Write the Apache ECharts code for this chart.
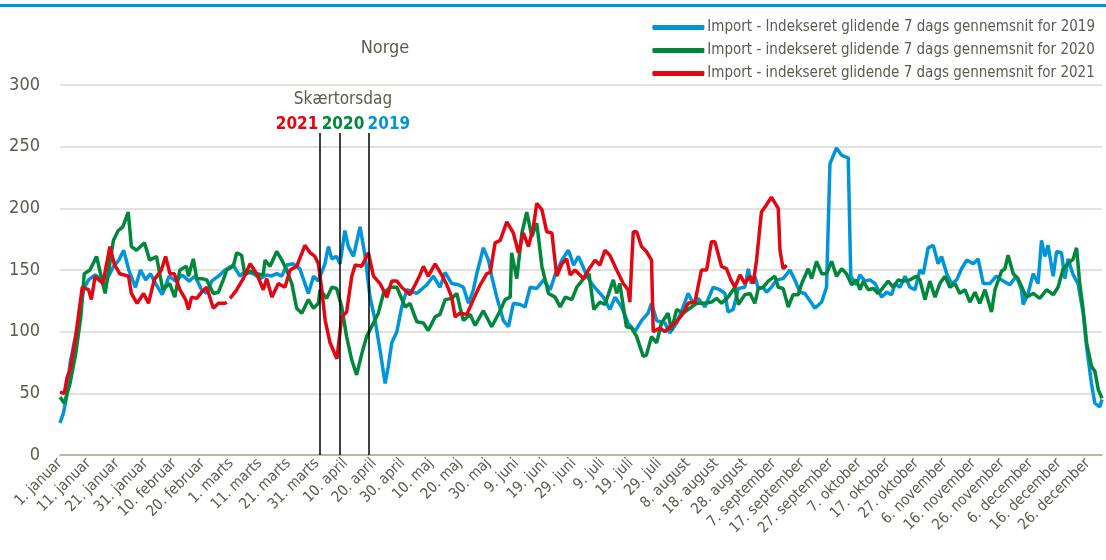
<!DOCTYPE html>
<html lang="da">
<head>
<meta charset="UTF-8" />
<title>Norge</title>
<script src="https://cdn.jsdelivr.net/npm/echarts@6/dist/echarts.min.js"></script>
<style>
  html, body { margin: 0; padding: 0; background: #fff; }
  #main { width: 1106px; height: 560px; }
</style>
</head>
<body>
<div id="main"></div>
<script>
// x-akse: dag i året (0 = 1. januar, skudår), etiket hver 10. dag
var dayLabels = ['1. januar', '11. januar', '21. januar', '31. januar', '10. februar', '20. februar',
  '1. marts', '11. marts', '21. marts', '31. marts', '10. april', '20. april', '30. april',
  '10. maj', '20. maj', '30. maj', '9. juni', '19. juni', '29. juni', '9. juli', '19. juli', '29. juli',
  '8. august', '18. august', '28. august', '7. september', '17. september', '27. september',
  '7. oktober', '17. oktober', '27. oktober', '6. november', '16. november', '26. november',
  '6. december', '16. december', '26. december'];

var seriesNames = [
  'Import - Indekseret glidende 7 dags gennemsnit for 2019',
  'Import - indekseret glidende 7 dags gennemsnit for 2020',
  'Import - indekseret glidende 7 dags gennemsnit for 2021'
];

// skærtorsdag 2021, 2020, 2019 (dag i året)
var skaertorsdag = [91, 98, 108];
var skaertorsdagYears = ['2021', '2020', '2019'];

// [dag, indeks]
var import2019 = [[0,26],[1.2,34],[2.3,47],[3.5,74],[4.7,88],[6.4,107],[8.2,134],[10,142],[12.3,146],[14.7,142],
  [17,145],[18.8,153],[20.6,158],[22.3,166],[24.1,150],[26.4,136],[28.2,150],[30,142],[31.7,147],[33.5,139],
  [35.8,130],[38.2,145],[40.5,141],[42.8,146],[45.2,141],[47.3,145],[49.6,134],[51.4,131],[53.1,141],[55.5,145],
  [57.8,150],[60.7,154],[63,145],[64.8,149],[67.7,147],[70,143],[72.4,146],[74,145],[75.9,147],[77.7,145],
  [79.4,154],[81.7,155],[84,151],[85.8,139],[87,131],[88.8,145],[90.5,141],[92.8,155],[94,169],[95.2,159],
  [96.9,161],[98.1,155],[99.8,182],[101,169],[102.8,161],[105.1,185],[106.9,161],[108.6,128],[110.4,109],[112.1,85],
  [113.9,58],[115,72],[116.2,91],[118,100],[119.7,120],[121.5,134],[125,131],[128.5,138],[130.8,145],[133.1,136],
  [134.9,148],[137.2,139],[139.6,138],[141.3,136],[143.1,123],[144.8,134],[146,147],[148.3,168],[150.1,158],[151.2,145],
  [153,128],[155.3,109],[157.1,104],[158.8,123],[161.2,122],[162.9,120],[164.7,136],[167,135],[169.4,142],[171.7,134],
  [173.4,146],[175.8,158],[178.1,166],[179.9,154],[181.6,161],[183.9,149],[185.6,141],[188,134],[190.3,128],[192.6,118],
  [194.4,128],[196.7,120],[199,107],[201.4,100],[203.7,109],[206,115],[207.2,123],[209,109],[211.9,107],[213.6,99],
  [216,107],[218.3,120],[220,131],[221.8,123],[223.5,127],[225.9,120],[228.8,136],[231.1,134],[232.9,131],[234,116],
  [235.8,118],[237.6,135],[239.9,136],[241.1,151],[242.2,139],[243.4,145],[244.6,135],[246.3,136],[247.5,132],[249.2,136],
  [251,142],[253.3,143],[255.7,150],[257.4,142],[259.2,132],[260.9,131],[263.3,123],[264.4,119],[266.8,124],[268.5,136],
  [269.7,236],[272,249],[273.8,243],[276.1,241],[277,145],[279,138],[280.2,146],[282,141],[283.7,142],[285.5,139],
  [287.8,128],[289.5,132],[291.3,130],[292.5,139],[294.2,136],[296,145],[297.7,136],[299.5,134],[301.2,150],[302.4,147],
  [304.1,168],[305.9,170],[307.6,155],[308.8,161],[310.6,147],[312.3,139],[314.1,142],[315.8,151],[317.6,158],[319.9,155],
  [321.6,159],[323.4,139],[325.7,139],[328,145],[330.4,141],[332.7,138],[335,145],[336.8,134],[337.4,122],[339.1,131],
  [340.9,147],[342.6,139],[343.8,174],[345,161],[346.1,170],[347.9,145],[349.1,165],[350.8,164],[352,143],[353.1,159],
  [354.9,146],[356.6,139],[358.4,115],[359.6,88],[361.3,58],[362.5,42],[364.2,39],[365,45]];

var import2020 = [[0,47],[1.5,42],[3.5,58],[5.5,82],[7.3,112],[8.5,147],[10.5,150],[12.8,161],[15.8,131],[18.7,174],
  [20.4,182],[22,185],[23.9,197],[25,169],[26.8,166],[29.6,172],[31.4,158],[33.8,161],[36,134],[38.4,139],
  [40.2,128],[42,150],[44.3,153],[45,145],[46.7,159],[47.9,143],[49.6,143],[51.4,142],[53.7,131],[55.5,132],
  [57.2,142],[58.4,150],[60.7,153],[61.9,164],[63.6,162],[64.8,146],[66.6,149],[68.9,147],[71.2,146],[71.8,158],
  [73.6,153],[75.9,165],[77.7,158],[79.4,150],[81.2,139],[82.9,119],[84.7,115],[87,126],[88.8,119],[90.5,123],
  [91.1,134],[93.4,127],[95.2,136],[96.9,135],[98.7,120],[100.4,96],[102.2,77],[103.9,65],[105.7,82],[107.4,96],
  [109.8,107],[111.5,115],[113.3,131],[115.6,136],[118,136],[120.9,120],[122.6,123],[125,108],[127.3,107],[129,101],
  [131.4,112],[133.1,114],[134.9,126],[137.2,127],[139,131],[140.2,119],[141.3,109],[143.7,114],[145.4,105],[148.3,117],
  [151.2,104],[154.2,117],[155.9,126],[157.7,128],[158.2,164],[160,143],[161.8,180],[163.5,197],[165.3,177],[167,188],
  [168.8,153],[171.1,131],[173.4,128],[175.2,120],[177,128],[179.3,126],[181,136],[183.4,143],[185.3,147],[187,118],
  [189.1,124],[190.9,122],[193.8,142],[195,131],[196.1,139],[198.4,104],[200.2,103],[202,96],[204.3,80],[205.4,81],
  [207.2,96],[209,91],[210.7,107],[213,115],[214.2,101],[216,118],[218.3,115],[220.6,119],[223,123],[225.9,123],
  [228.2,124],[230,127],[231.7,123],[234,128],[236.4,136],[237.6,122],[239.9,130],[241.7,131],[243.4,123],[244.6,135],
  [246.3,136],[248.1,141],[250.4,145],[251.6,136],[253.3,135],[255.1,120],[256.8,130],[258.6,130],[259.8,139],[262.1,151],
  [263.3,143],[265,157],[266.8,147],[268.5,147],[270.3,157],[272,145],[273.8,151],[275.5,147],[277.3,138],[279,142],
  [280.2,134],[281.4,141],[283.1,134],[284.9,135],[286.6,131],[288.4,136],[290.1,141],[291.9,136],[293.6,142],[295.4,141],
  [297.7,142],[300,145],[301.2,142],[303,126],[304.7,141],[306.5,128],[308.2,139],[310,145],[311.7,136],[313.5,139],
  [315.2,131],[317,134],[318.7,124],[320.5,132],[322.2,123],[324,134],[326.3,116],[327.5,134],[329.8,149],[331,151],
  [332.1,162],[333.9,147],[335.6,143],[338.5,128],[340.9,131],[343.2,127],[345.6,134],[347.9,130],[349.6,136],[351.4,151],
  [353.1,155],[354.9,159],[356.1,168],[357.2,139],[358.4,118],[359.6,91],[361.3,72],[362.5,68],[363.7,53],[365,46]];

// 2021 har ingen 29. februar (dag 59) -> hul i linjen
var import2021 = [[0,51],[1.5,50],[2.5,63],[3.5,69],[5.5,96],[7.8,136],[10,134],[11,126],[12.3,145],[15,139],
  [17.5,169],[19,155],[20.9,147],[24,145],[25,131],[27,123],[29.3,131],[31,123],[33,142],[35.5,150],
  [37,161],[38.5,147],[40,147],[42,134],[44,126],[45,118],[46.1,128],[47.9,127],[49.6,132],[51.4,136],
  [53.7,119],[55.5,123],[57.8,123],[58.4,124],[59,null],[59.6,127],[61.9,134],[64.2,143],[66.6,155],[68.9,147],
  [71.2,134],[72.4,143],[74.2,128],[76.5,139],[78.8,136],[80.6,150],[82.9,153],[85.8,170],[87.6,164],[89.3,161],
  [90.5,155],[91.7,134],[92.9,109],[94.6,91],[97,78],[98.7,112],[100.4,116],[102.2,145],[103.4,154],[105.7,153],
  [108,164],[109.8,145],[112.1,139],[114.5,128],[116.2,141],[118,141],[119.7,136],[122.6,130],[124.4,138],[126.1,146],
  [127.3,153],[129,145],[131.4,155],[133.7,146],[135.5,138],[137.2,128],[138.4,112],[140.1,115],[142.5,114],[144.8,126],
  [147.2,138],[149.5,147],[150.7,148],[152.4,172],[154.2,174],[156.5,189],[158.8,180],[160.6,164],[162.3,180],[164.1,169],
  [165.8,185],[167,204],[168.8,199],[170.5,181],[172.3,180],[174,145],[175.8,155],[177.5,159],[178.7,146],[180.4,150],
  [183.4,143],[185.1,150],[187.4,158],[189.1,154],[190.9,166],[192.6,162],[195,150],[197.3,139],[199,134],[199.6,124],
  [200.8,181],[202,181],[203.7,169],[205.4,165],[207.2,158],[207.8,100],[210.1,103],[211.9,100],[213.6,104],[216,108],
  [218.3,115],[220,123],[222.4,124],[224.7,150],[226.5,150],[228.2,173],[229.4,173],[231.7,153],[233.5,151],[235,142],
  [236.4,136],[238.2,146],[239.9,139],[241.7,145],[242.8,139],[244,158],[245.7,197],[247.5,203],[249.2,209],[251.6,200],
  [252.2,166],[253.3,151],[254.5,154]];

var colors = ['#0095d8', '#00873c', '#e30613'];
var textColor = '#5a5a4f';
var fontFam = "'Liberation Sans Narrow', 'DejaVu Sans Condensed', 'Liberation Sans', Arial, sans-serif";

var chart = echarts.init(document.getElementById('main'));

var lineData = skaertorsdag.map(function (d) {
  return [{ coord: [d, 261] }, { coord: [d, 0] }];
});

var option = {
  animation: false,
  color: colors,
  textStyle: { fontFamily: fontFam, color: textColor },
  title: {
    text: 'Norge',
    left: 380,
    top: 34,
    textAlign: 'center',
    textStyle: { fontSize: 18, fontWeight: 'normal', color: textColor, fontFamily: fontFam }
  },
  legend: {
    orient: 'vertical',
    right: 6,
    top: 15,
    itemGap: 8,
    itemWidth: 52,
    itemHeight: 5,
    icon: 'roundRect',
    textStyle: { fontSize: 15, color: textColor, fontFamily: fontFam, padding: [0, 0, 0, -2] },
    data: seriesNames
  },
  grid: { left: 60, right: 4, top: 85, bottom: 105 },
  xAxis: {
    type: 'value',
    min: 0,
    max: 365,
    interval: 10,
    splitLine: { show: false },
    axisTick: { show: false },
    axisLine: { lineStyle: { color: '#a9a894', width: 1.5 } },
    axisLabel: {
      rotate: 45,
      margin: 6,
      fontSize: 15,
      color: textColor,
      fontFamily: fontFam,
      formatter: function (v) { return dayLabels[v / 10] || ''; }
    }
  },
  yAxis: {
    type: 'value',
    min: 0,
    max: 300,
    interval: 50,
    axisLine: { show: false },
    axisTick: { show: false },
    splitLine: { lineStyle: { color: '#d9d8cf', width: 1.5 } },
    axisLabel: { fontSize: 18, color: textColor, fontFamily: fontFam, margin: 20 }
  },
  series: [
    { name: seriesNames[0], type: 'line', data: import2019, showSymbol: false, lineStyle: { width: 3.5 } },
    { name: seriesNames[1], type: 'line', data: import2020, showSymbol: false, lineStyle: { width: 3.5 } },
    {
      name: seriesNames[2], type: 'line', data: import2021, showSymbol: false, lineStyle: { width: 3.5 },
      markLine: {
        silent: true,
        symbol: 'none',
        label: { show: false },
        lineStyle: { color: '#000', width: 1.5, type: 'solid' },
        data: lineData
      }
    }
  ],
  graphic: [
    { type: 'rect', left: 0, top: 4, shape: { width: 1106, height: 3 }, style: { fill: '#0095d8' }, silent: true },
    {
      type: 'text', x: 343, y: 100,
      style: { text: 'Skærtorsdag', fill: textColor, font: "17px " + fontFam, textAlign: 'center', textVerticalAlign: 'middle' }
    },
    {
      type: 'text', x: 343, y: 125,
      style: {
        text: '{a|' + skaertorsdagYears[0] + '} {b|' + skaertorsdagYears[1] + '} {c|' + skaertorsdagYears[2] + '}',
        textAlign: 'center', textVerticalAlign: 'middle',
        rich: {
          a: { fill: '#e30613', fontSize: 17, fontWeight: 'bold', fontFamily: fontFam },
          b: { fill: '#00873c', fontSize: 17, fontWeight: 'bold', fontFamily: fontFam },
          c: { fill: '#0095d8', fontSize: 17, fontWeight: 'bold', fontFamily: fontFam }
        }
      }
    }
  ]
};

chart.setOption(option);
</script>
</body>
</html>
